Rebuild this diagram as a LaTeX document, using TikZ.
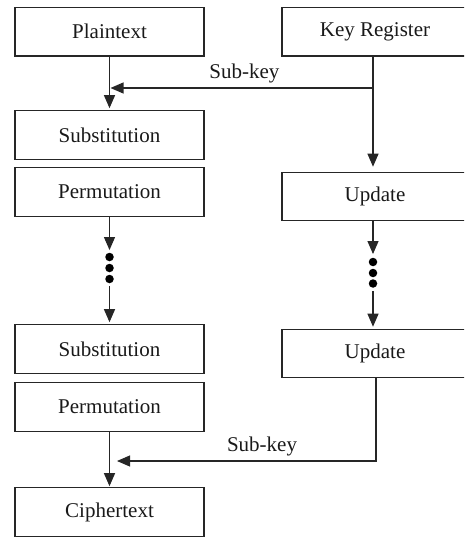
\documentclass[tikz,border=0pt]{standalone}
\usepackage{fontspec}
\setmainfont{Liberation Serif}
\usetikzlibrary{arrows.meta}
\begin{document}
\begin{tikzpicture}[x=1pt,y=1pt,
  box/.style={draw=black!85, line width=1.1pt, minimum height=48.5pt, inner sep=0pt,
    font=\fontsize{21}{24}\selectfont, text=black!90},
  lbox/.style={box, minimum width=189pt},
  rbox/.style={box, minimum width=186pt},
  conn/.style={draw=black!85, line width=1.1pt},
  arr/.style={conn, -{Triangle[length=13pt,width=11pt]}},
  dotn/.style={circle, fill=black, inner sep=0pt, minimum size=8.5pt},
  lbl/.style={font=\fontsize{21}{24}\selectfont, text=black!90}]
\useasboundingbox (0,0) rectangle (464,-537);
\begin{scope}
\clip (0,0) rectangle (464,-537);
% left column
\node[lbox] (plain) at (109.5,-31.75) {Plaintext};
\node[lbox] (sub1)  at (109.5,-135) {Substitution};
\node[lbox] (perm1) at (109.5,-192) {Permutation};
\node[lbox] (sub2)  at (109.5,-349) {Substitution};
\node[lbox] (perm2) at (109.5,-407) {Permutation};
\node[lbox] (ciph)  at (109.5,-512) {Ciphertext};
% right column
\node[rbox] (key)  at (375,-31.75) {Key Register};
\node[rbox] (upd1) at (375,-196.5) {Update};
\node[rbox] (upd2) at (375,-353.5) {Update};
\end{scope}
% dots
\node[dotn] (ld1) at (109.5,-257) {};
\node[dotn] (ld2) at (109.5,-268) {};
\node[dotn] (ld3) at (109.5,-279) {};
\node[dotn] (rd1) at (373,-262) {};
\node[dotn] (rd2) at (373,-273) {};
\node[dotn] (rd3) at (373,-283.5) {};
% coordinates
\coordinate (tap1) at (373,-88);
\coordinate (join1) at (110.5,-88);
\coordinate (join2) at (117,-461);
% left connectors
\draw[arr, shorten >=2pt] (plain.south) -- (sub1.north);
\draw[arr, shorten >=2.5pt] (perm1.south) -- (ld1.north);
\draw[arr, shorten >=2pt, shorten <=3pt] (ld3.south) -- (sub2.north);
\draw[arr, shorten >=1pt] (perm2.south) -- (ciph.north);
% right connectors
\draw[arr, shorten >=5pt] (key.south -| tap1) -- (upd1.north -| tap1);
\draw[arr, shorten >=3.5pt] (upd1.south -| rd1) -- (rd1.north);
\draw[arr, shorten >=2pt, shorten <=3pt] (rd3.south) -- (upd2.north -| rd3);
% sub-keys
\draw[arr] (tap1) -- node[lbl, above=1pt, pos=0.49] {Sub-key} (join1);
\draw[arr] (upd2.south -| 376,0) |- node[lbl, above=1pt, pos=0.72] {Sub-key} (join2);
\end{tikzpicture}
\end{document}
